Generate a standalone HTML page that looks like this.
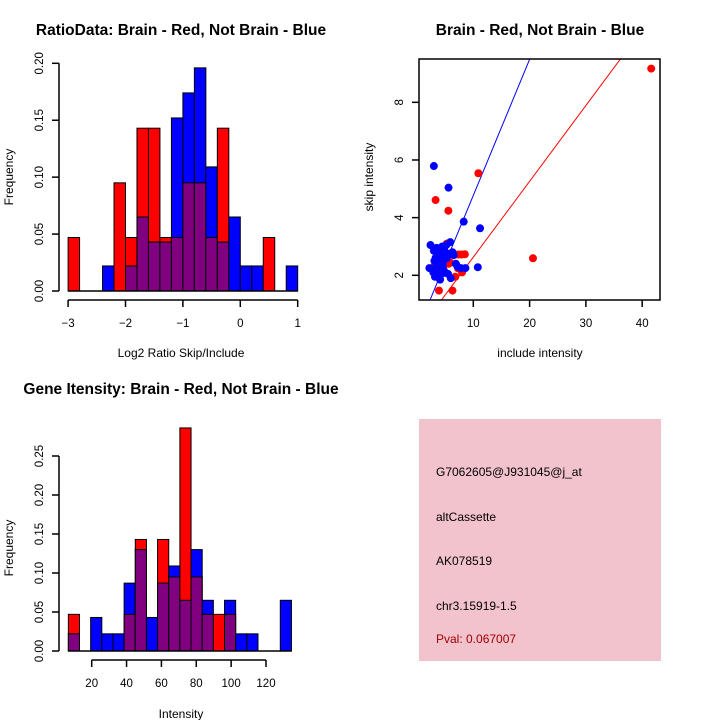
<!DOCTYPE html>
<html><head><meta charset="utf-8"><style>
body{margin:0;background:#fff}
svg{display:block;font-family:"Liberation Sans",sans-serif}
</style></head><body>
<svg id="s" width="720" height="720" viewBox="0 0 720 720">
<rect x="419" y="419" width="242" height="242" fill="#f2c2cd"/>
<g font-size="12">
<text x="436" y="476">G7062605@J931045@j_at</text>
<text x="436" y="521">altCassette</text>
<text x="436" y="565">AK078519</text>
<text x="436" y="610">chr3.15919-1.5</text>
<text x="436" y="643" fill="#a00000">Pval: 0.067007</text>
</g>
</svg>
<script>
const ratioRed=[0.047,0,0,0,0.095,0.047,0.143,0.143,0.047,0.047,0.095,0.095,0.047,0.143,0,0,0,0.047,0,0];
const ratioBlue=[0,0,0,0.022,0,0.022,0.065,0.043,0.043,0.152,0.174,0.196,0.109,0.043,0.065,0.022,0.022,0,0,0.022];
const ratioXTicks=[-3,-2,-1,0,1];
const ratioYTicks=[0,0.05,0.1,0.15,0.2];
const intRed=[0.047,0,0,0,0,0.047,0.143,0,0.143,0.095,0.286,0.095,0.047,0.047,0.047,0,0,0,0,0];
const intBlue=[0.022,0,0.043,0.022,0.022,0.087,0.130,0.043,0.087,0.109,0.065,0.130,0.065,0,0.065,0.022,0.022,0,0,0.065];
const intXTicks=[20,40,60,80,100,120];
const intYTicks=[0,0.05,0.1,0.15,0.2,0.25];
const redPts=[[41.6,9.17],[20.6,2.59],[10.9,5.54],[3.3,4.61],[5.57,4.24],[3.9,1.47],[6.3,1.47],[8.5,2.73],[7.3,2.72],[7.9,2.72],[5.9,2.44],[7.3,2.24],[8.0,2.1],[5.3,3.1],[4.5,2.9],[3.0,2.3],[6.8,1.95],[5.6,2.4]];
const bluePts=[[3.0,5.79],[5.6,5.04],[8.3,3.86],[11.2,3.63],[10.8,2.28],[2.4,3.05],[3.5,2.95],[4.5,3.0],[5.2,3.05],[5.9,3.15],[2.2,2.25],[2.8,2.2],[3.1,2.5],[3.3,2.6],[3.5,2.4],[3.7,2.1],[3.9,2.0],[4.0,2.3],[4.2,2.5],[4.3,2.7],[4.5,2.8],[4.7,2.2],[4.9,2.6],[3.6,1.95],[4.1,1.85],[4.4,2.05],[3.2,1.95],[3.8,2.75],[4.6,2.4],[5.0,2.1],[5.5,2.05],[6.0,1.9],[6.5,2.7],[6.3,2.8],[5.8,2.75],[6.9,2.4],[7.2,2.3],[7.8,2.25],[8.6,2.25],[3.0,2.85],[3.4,2.3],[4.8,2.9],[5.3,2.6],[2.9,2.1],[3.7,2.6]];
const scXTicks=[10,20,30,40];
const scYTicks=[2,4,6,8];
const blueFit=[0.05,0.472];
const redFit=[0,0.263];

const svg=document.getElementById('s');
const NS='http://www.w3.org/2000/svg';
function mk(tag,attrs,parent){const e=document.createElementNS(NS,tag);for(const k in attrs)e.setAttribute(k,attrs[k]);(parent||svg).appendChild(e);return e;}
function txt(x,y,s,size,extra,parent){const t=mk('text',Object.assign({x:x,y:y,'font-size':size,'text-anchor':'middle'},extra||{}),parent);t.textContent=s;return t;}

function hist(name,red,blue,x0,w,xs,ys,xTicks,yTicks,axY,yAxX,title,titleX,titleY,xlab,xlabY,ylabY,fmtX){
  const g=mk('g',{});
  
  
  for(let i=0;i<red.length;i++){
    const r=red[i],b=blue[i];const mx=Math.max(r,b),mn=Math.min(r,b);
    const xl=xs(x0+i*w),xr=xs(x0+(i+1)*w);
    if(mx>0){const rc=mk('rect',{x:xl,y:ys(mx),width:xr-xl,height:ys(0)-ys(mx),fill:r>=b?'#ff0000':'#0000ff',stroke:'#000','stroke-width':1},g);
      
      }
    if(mn>0){const pc=mk('rect',{x:xl,y:ys(mn),width:xr-xl,height:ys(0)-ys(mn),fill:'#800080',stroke:'#000','stroke-width':1},g);
      
      }
  }
  mk('line',{x1:xs(x0),x2:xs(x0+red.length*w),y1:ys(0),y2:ys(0),stroke:'#000','stroke-width':1.5},g);
  const ax=mk('g',{stroke:'#000','stroke-width':1.5},g);
  
  
  mk('line',{x1:xs(xTicks[0]),x2:xs(xTicks[xTicks.length-1]),y1:axY,y2:axY},ax);
  xTicks.forEach(t=>{mk('line',{x1:xs(t),x2:xs(t),y1:axY,y2:axY+7},ax);txt(xs(t),axY+27,fmtX(t),11.5,{stroke:'none'},g);});
  const ay=mk('g',{stroke:'#000','stroke-width':1.5},g);
  
  
  mk('line',{x1:yAxX,x2:yAxX,y1:ys(yTicks[0]),y2:ys(yTicks[yTicks.length-1])},ay);
  yTicks.forEach(t=>{mk('line',{x1:yAxX,x2:yAxX-7,y1:ys(t),y2:ys(t)},ay);txt(0,0,t.toFixed(2),11.5,{transform:`translate(${yAxX-16},${ys(t)}) rotate(-90)`},g);});
  txt(titleX,titleY,title,15.5,{'font-weight':'bold'},g);
  txt(181,xlabY,xlab,12,{},g);
  txt(0,0,'Frequency',12,{transform:`translate(13,${ylabY}) rotate(-90)`},g);
}
hist('ratio-histogram',ratioRed,ratioBlue,-3,0.2,v=>240.3+v*57.4,v=>291-v*1138.5,ratioXTicks,ratioYTicks,300,59,
 'RatioData: Brain - Red, Not Brain - Blue',181,35,'Log2 Ratio Skip/Include',357,177,t=>String(t).replace('-','\u2212'));
hist('intensity-histogram',intRed,intBlue,6.6,6.4,v=>91.7+(v-20)*1.743,v=>651-v*780,intXTicks,intYTicks,660,59,
 'Gene Itensity: Brain - Red, Not Brain - Blue',181,394,'Intensity',718,548,t=>String(t));

// scatter
const sx=v=>417+v*5.63, sy=v=>275.3-(v-2)*28.83;
const sc=mk('g',{});


const cp=mk('clipPath',{id:'cp'},sc);mk('rect',{x:419,y:59,width:241,height:241},cp);
[[blueFit,'#0000ff'],[redFit,'#ff0000']].forEach(([f,c])=>{
  const l=mk('line',{x1:sx(0),y1:sy(f[0]),x2:sx(60),y2:sy(f[0]+f[1]*60),stroke:c,'stroke-width':1,'clip-path':'url(#cp)'},sc);
  
  
});
redPts.forEach(p=>{const c=mk('circle',{cx:sx(p[0]),cy:sy(p[1]),r:4,fill:'#ff0000'},sc);
  
  });
bluePts.forEach(p=>{const c=mk('circle',{cx:sx(p[0]),cy:sy(p[1]),r:4,fill:'#0000ff'},sc);
  
  });
mk('rect',{x:419,y:59,width:241,height:241,fill:'none',stroke:'#000','stroke-width':1.5},sc);
scXTicks.forEach(t=>{mk('line',{x1:sx(t),x2:sx(t),y1:300,y2:307,stroke:'#000','stroke-width':1.5},sc);txt(sx(t),327,String(t),11.5,{},sc);});
scYTicks.forEach(t=>{mk('line',{x1:419,x2:412,y1:sy(t),y2:sy(t),stroke:'#000','stroke-width':1.5},sc);txt(0,0,String(t),11.5,{transform:`translate(403,${sy(t)}) rotate(-90)`},sc);});
txt(540,35,'Brain - Red, Not Brain - Blue',15.5,{'font-weight':'bold'},sc);
txt(540,357,'include intensity',12,{},sc);
txt(0,0,'skip intensity',12,{transform:'translate(373,177) rotate(-90)'},sc);
</script>
</body></html>
